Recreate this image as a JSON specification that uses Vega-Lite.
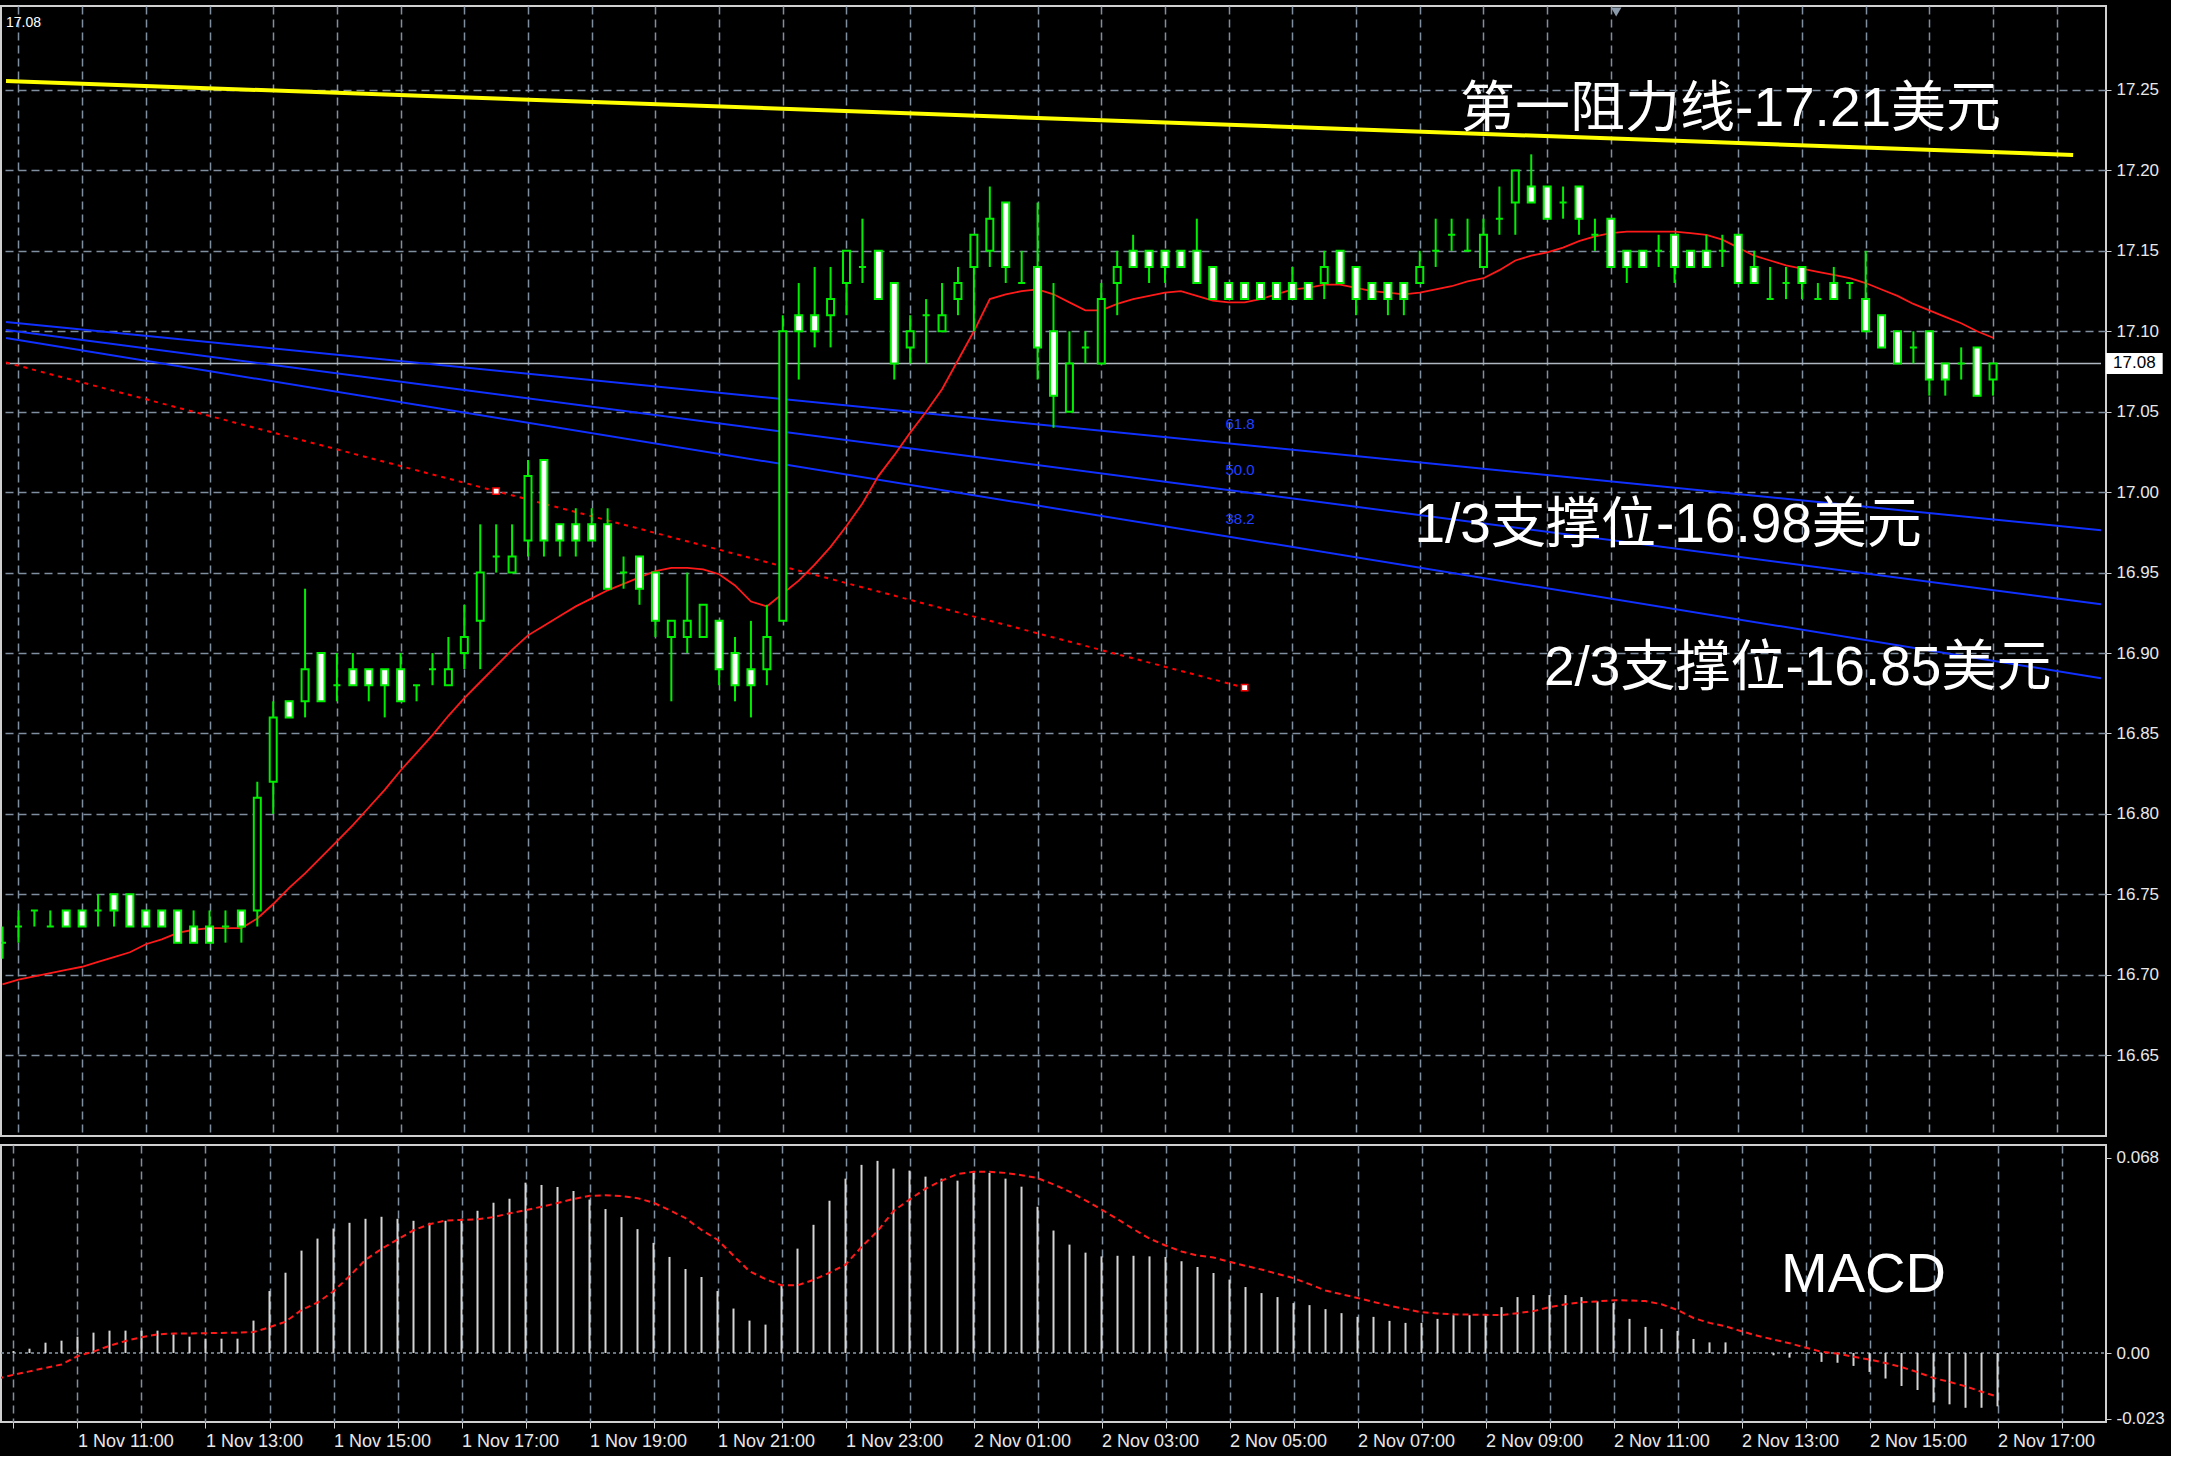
{
  "$schema": "https://vega.github.io/schema/vega-lite/v6.json",
  "background": "#000000",
  "padding": {"left": 0, "top": 5, "right": 5, "bottom": 5},
  "spacing": 7,
  "config": {
    "view": {"stroke": "#d0d0d0", "strokeWidth": 2, "fill": "#000000"},
    "axis": {"gridColor": "#7f8fa0", "gridDash": [8, 5], "gridWidth": 1.5, "labelColor": "#e8e8e8", "labelFont": "Liberation Sans", "tickColor": "#d0d0d0", "domain": false}
  },
  "datasets": {
    "bars": [
      {"t":"2017-11-01T09:45","o":16.72,"h":16.73,"l":16.71,"c":16.72,"ma":16.694,"hist":0.0003,"sig":-0.0089},
      {"t":"2017-11-01T10:00","o":16.73,"h":16.74,"l":16.72,"c":16.73,"ma":16.697,"hist":0.0007,"sig":-0.0076},
      {"t":"2017-11-01T10:15","o":16.74,"h":16.74,"l":16.73,"c":16.74,"ma":16.699,"hist":0.0015,"sig":-0.0064},
      {"t":"2017-11-01T10:30","o":16.73,"h":16.74,"l":16.73,"c":16.73,"ma":16.701,"hist":0.0036,"sig":-0.0052},
      {"t":"2017-11-01T10:45","o":16.74,"h":16.74,"l":16.73,"c":16.73,"ma":16.703,"hist":0.0043,"sig":-0.0040},
      {"t":"2017-11-01T11:00","o":16.74,"h":16.74,"l":16.73,"c":16.73,"ma":16.705,"hist":0.0057,"sig":-0.0011},
      {"t":"2017-11-01T11:15","o":16.74,"h":16.75,"l":16.73,"c":16.74,"ma":16.708,"hist":0.0071,"sig":0.0005},
      {"t":"2017-11-01T11:30","o":16.75,"h":16.75,"l":16.73,"c":16.74,"ma":16.711,"hist":0.0078,"sig":0.0025},
      {"t":"2017-11-01T11:45","o":16.75,"h":16.75,"l":16.73,"c":16.73,"ma":16.714,"hist":0.0078,"sig":0.0042},
      {"t":"2017-11-01T12:00","o":16.74,"h":16.74,"l":16.73,"c":16.73,"ma":16.719,"hist":0.0078,"sig":0.0055},
      {"t":"2017-11-01T12:15","o":16.74,"h":16.74,"l":16.73,"c":16.73,"ma":16.722,"hist":0.0078,"sig":0.0065},
      {"t":"2017-11-01T12:30","o":16.74,"h":16.74,"l":16.72,"c":16.72,"ma":16.726,"hist":0.0065,"sig":0.0068},
      {"t":"2017-11-01T12:45","o":16.73,"h":16.74,"l":16.72,"c":16.72,"ma":16.728,"hist":0.0057,"sig":0.0068},
      {"t":"2017-11-01T13:00","o":16.73,"h":16.74,"l":16.72,"c":16.72,"ma":16.729,"hist":0.0050,"sig":0.0069},
      {"t":"2017-11-01T13:15","o":16.73,"h":16.74,"l":16.72,"c":16.73,"ma":16.729,"hist":0.0050,"sig":0.0070},
      {"t":"2017-11-01T13:30","o":16.74,"h":16.74,"l":16.72,"c":16.73,"ma":16.729,"hist":0.0050,"sig":0.0071},
      {"t":"2017-11-01T13:45","o":16.74,"h":16.82,"l":16.73,"c":16.81,"ma":16.735,"hist":0.0113,"sig":0.0073},
      {"t":"2017-11-01T14:00","o":16.82,"h":16.87,"l":16.80,"c":16.86,"ma":16.744,"hist":0.0216,"sig":0.0090},
      {"t":"2017-11-01T14:15","o":16.87,"h":16.87,"l":16.86,"c":16.86,"ma":16.754,"hist":0.0280,"sig":0.0109},
      {"t":"2017-11-01T14:30","o":16.87,"h":16.94,"l":16.86,"c":16.89,"ma":16.763,"hist":0.0357,"sig":0.0150},
      {"t":"2017-11-01T14:45","o":16.90,"h":16.90,"l":16.87,"c":16.87,"ma":16.773,"hist":0.0399,"sig":0.0176},
      {"t":"2017-11-01T15:00","o":16.88,"h":16.90,"l":16.87,"c":16.88,"ma":16.783,"hist":0.0434,"sig":0.0215},
      {"t":"2017-11-01T15:15","o":16.89,"h":16.90,"l":16.88,"c":16.88,"ma":16.793,"hist":0.0454,"sig":0.0268},
      {"t":"2017-11-01T15:30","o":16.89,"h":16.89,"l":16.87,"c":16.88,"ma":16.804,"hist":0.0468,"sig":0.0325},
      {"t":"2017-11-01T15:45","o":16.89,"h":16.89,"l":16.86,"c":16.88,"ma":16.815,"hist":0.0475,"sig":0.0363},
      {"t":"2017-11-01T16:00","o":16.89,"h":16.90,"l":16.87,"c":16.87,"ma":16.827,"hist":0.0468,"sig":0.0396},
      {"t":"2017-11-01T16:15","o":16.88,"h":16.88,"l":16.87,"c":16.88,"ma":16.838,"hist":0.0461,"sig":0.0428},
      {"t":"2017-11-01T16:30","o":16.89,"h":16.90,"l":16.88,"c":16.89,"ma":16.849,"hist":0.0454,"sig":0.0449},
      {"t":"2017-11-01T16:45","o":16.88,"h":16.91,"l":16.88,"c":16.89,"ma":16.861,"hist":0.0461,"sig":0.0462},
      {"t":"2017-11-01T17:00","o":16.90,"h":16.93,"l":16.89,"c":16.91,"ma":16.872,"hist":0.0468,"sig":0.0464},
      {"t":"2017-11-01T17:15","o":16.92,"h":16.98,"l":16.89,"c":16.95,"ma":16.882,"hist":0.0496,"sig":0.0466},
      {"t":"2017-11-01T17:30","o":16.96,"h":16.98,"l":16.95,"c":16.96,"ma":16.892,"hist":0.0524,"sig":0.0474},
      {"t":"2017-11-01T17:45","o":16.95,"h":16.98,"l":16.95,"c":16.96,"ma":16.902,"hist":0.0538,"sig":0.0487},
      {"t":"2017-11-01T18:00","o":16.97,"h":17.02,"l":16.96,"c":17.01,"ma":16.911,"hist":0.0594,"sig":0.0498},
      {"t":"2017-11-01T18:15","o":17.02,"h":17.02,"l":16.96,"c":16.97,"ma":16.917,"hist":0.0586,"sig":0.0510},
      {"t":"2017-11-01T18:30","o":16.98,"h":16.98,"l":16.96,"c":16.97,"ma":16.923,"hist":0.0579,"sig":0.0523},
      {"t":"2017-11-01T18:45","o":16.98,"h":16.99,"l":16.96,"c":16.97,"ma":16.929,"hist":0.0565,"sig":0.0537},
      {"t":"2017-11-01T19:00","o":16.98,"h":16.99,"l":16.97,"c":16.97,"ma":16.934,"hist":0.0535,"sig":0.0548},
      {"t":"2017-11-01T19:15","o":16.98,"h":16.99,"l":16.94,"c":16.94,"ma":16.939,"hist":0.0502,"sig":0.0550},
      {"t":"2017-11-01T19:30","o":16.95,"h":16.96,"l":16.94,"c":16.95,"ma":16.943,"hist":0.0474,"sig":0.0547},
      {"t":"2017-11-01T19:45","o":16.96,"h":16.96,"l":16.93,"c":16.94,"ma":16.947,"hist":0.0432,"sig":0.0540},
      {"t":"2017-11-01T20:00","o":16.95,"h":16.95,"l":16.91,"c":16.92,"ma":16.951,"hist":0.0384,"sig":0.0524},
      {"t":"2017-11-01T20:15","o":16.91,"h":16.92,"l":16.87,"c":16.92,"ma":16.953,"hist":0.0335,"sig":0.0498},
      {"t":"2017-11-01T20:30","o":16.91,"h":16.95,"l":16.90,"c":16.92,"ma":16.953,"hist":0.0293,"sig":0.0470},
      {"t":"2017-11-01T20:45","o":16.91,"h":16.93,"l":16.91,"c":16.93,"ma":16.952,"hist":0.0265,"sig":0.0429},
      {"t":"2017-11-01T21:00","o":16.92,"h":16.92,"l":16.88,"c":16.89,"ma":16.949,"hist":0.0216,"sig":0.0395},
      {"t":"2017-11-01T21:15","o":16.90,"h":16.91,"l":16.87,"c":16.88,"ma":16.942,"hist":0.0155,"sig":0.0339},
      {"t":"2017-11-01T21:30","o":16.89,"h":16.92,"l":16.86,"c":16.88,"ma":16.932,"hist":0.0113,"sig":0.0285},
      {"t":"2017-11-01T21:45","o":16.89,"h":16.93,"l":16.88,"c":16.91,"ma":16.929,"hist":0.0099,"sig":0.0258},
      {"t":"2017-11-01T22:00","o":16.92,"h":17.11,"l":16.92,"c":17.10,"ma":16.937,"hist":0.0234,"sig":0.0236},
      {"t":"2017-11-01T22:15","o":17.11,"h":17.13,"l":17.07,"c":17.10,"ma":16.945,"hist":0.0364,"sig":0.0236},
      {"t":"2017-11-01T22:30","o":17.11,"h":17.14,"l":17.09,"c":17.10,"ma":16.955,"hist":0.0447,"sig":0.0255},
      {"t":"2017-11-01T22:45","o":17.11,"h":17.14,"l":17.09,"c":17.12,"ma":16.966,"hist":0.0531,"sig":0.0280},
      {"t":"2017-11-01T23:00","o":17.13,"h":17.15,"l":17.11,"c":17.15,"ma":16.979,"hist":0.0608,"sig":0.0308},
      {"t":"2017-11-01T23:15","o":17.14,"h":17.17,"l":17.13,"c":17.14,"ma":16.993,"hist":0.0656,"sig":0.0370},
      {"t":"2017-11-01T23:30","o":17.15,"h":17.15,"l":17.12,"c":17.12,"ma":17.010,"hist":0.0670,"sig":0.0425},
      {"t":"2017-11-01T23:45","o":17.13,"h":17.13,"l":17.07,"c":17.08,"ma":17.023,"hist":0.0643,"sig":0.0495},
      {"t":"2017-11-02T00:00","o":17.09,"h":17.11,"l":17.08,"c":17.10,"ma":17.037,"hist":0.0636,"sig":0.0535},
      {"t":"2017-11-02T00:15","o":17.11,"h":17.12,"l":17.08,"c":17.11,"ma":17.050,"hist":0.0615,"sig":0.0573},
      {"t":"2017-11-02T00:30","o":17.10,"h":17.13,"l":17.10,"c":17.11,"ma":17.064,"hist":0.0608,"sig":0.0601},
      {"t":"2017-11-02T00:45","o":17.12,"h":17.14,"l":17.11,"c":17.13,"ma":17.082,"hist":0.0601,"sig":0.0624},
      {"t":"2017-11-02T01:00","o":17.14,"h":17.16,"l":17.10,"c":17.16,"ma":17.100,"hist":0.0628,"sig":0.0632},
      {"t":"2017-11-02T01:15","o":17.15,"h":17.19,"l":17.14,"c":17.17,"ma":17.120,"hist":0.0628,"sig":0.0632},
      {"t":"2017-11-02T01:30","o":17.18,"h":17.18,"l":17.13,"c":17.14,"ma":17.123,"hist":0.0608,"sig":0.0628},
      {"t":"2017-11-02T01:45","o":17.13,"h":17.15,"l":17.13,"c":17.13,"ma":17.125,"hist":0.0580,"sig":0.0620},
      {"t":"2017-11-02T02:00","o":17.14,"h":17.18,"l":17.07,"c":17.09,"ma":17.126,"hist":0.0510,"sig":0.0610},
      {"t":"2017-11-02T02:15","o":17.10,"h":17.13,"l":17.04,"c":17.06,"ma":17.123,"hist":0.0427,"sig":0.0588},
      {"t":"2017-11-02T02:30","o":17.05,"h":17.10,"l":17.05,"c":17.08,"ma":17.118,"hist":0.0378,"sig":0.0563},
      {"t":"2017-11-02T02:45","o":17.09,"h":17.10,"l":17.08,"c":17.09,"ma":17.113,"hist":0.0350,"sig":0.0532},
      {"t":"2017-11-02T03:00","o":17.08,"h":17.13,"l":17.08,"c":17.12,"ma":17.113,"hist":0.0337,"sig":0.0500},
      {"t":"2017-11-02T03:15","o":17.13,"h":17.15,"l":17.11,"c":17.14,"ma":17.117,"hist":0.0339,"sig":0.0467},
      {"t":"2017-11-02T03:30","o":17.15,"h":17.16,"l":17.14,"c":17.14,"ma":17.120,"hist":0.0339,"sig":0.0432},
      {"t":"2017-11-02T03:45","o":17.15,"h":17.15,"l":17.13,"c":17.14,"ma":17.122,"hist":0.0337,"sig":0.0399},
      {"t":"2017-11-02T04:00","o":17.15,"h":17.15,"l":17.13,"c":17.14,"ma":17.124,"hist":0.0335,"sig":0.0375},
      {"t":"2017-11-02T04:15","o":17.15,"h":17.15,"l":17.14,"c":17.14,"ma":17.125,"hist":0.0320,"sig":0.0354},
      {"t":"2017-11-02T04:30","o":17.15,"h":17.17,"l":17.13,"c":17.13,"ma":17.122,"hist":0.0300,"sig":0.0340},
      {"t":"2017-11-02T04:45","o":17.14,"h":17.14,"l":17.12,"c":17.12,"ma":17.119,"hist":0.0279,"sig":0.0333},
      {"t":"2017-11-02T05:00","o":17.13,"h":17.13,"l":17.12,"c":17.12,"ma":17.118,"hist":0.0256,"sig":0.0318},
      {"t":"2017-11-02T05:15","o":17.13,"h":17.13,"l":17.12,"c":17.12,"ma":17.118,"hist":0.0230,"sig":0.0304},
      {"t":"2017-11-02T05:30","o":17.13,"h":17.13,"l":17.12,"c":17.12,"ma":17.120,"hist":0.0209,"sig":0.0291},
      {"t":"2017-11-02T05:45","o":17.13,"h":17.13,"l":17.12,"c":17.12,"ma":17.123,"hist":0.0195,"sig":0.0276},
      {"t":"2017-11-02T06:00","o":17.13,"h":17.14,"l":17.12,"c":17.12,"ma":17.126,"hist":0.0174,"sig":0.0261},
      {"t":"2017-11-02T06:15","o":17.13,"h":17.13,"l":17.12,"c":17.12,"ma":17.127,"hist":0.0167,"sig":0.0240},
      {"t":"2017-11-02T06:30","o":17.13,"h":17.15,"l":17.12,"c":17.14,"ma":17.129,"hist":0.0153,"sig":0.0218},
      {"t":"2017-11-02T06:45","o":17.15,"h":17.15,"l":17.13,"c":17.13,"ma":17.129,"hist":0.0139,"sig":0.0205},
      {"t":"2017-11-02T07:00","o":17.14,"h":17.14,"l":17.11,"c":17.12,"ma":17.127,"hist":0.0126,"sig":0.0192},
      {"t":"2017-11-02T07:15","o":17.13,"h":17.13,"l":17.12,"c":17.12,"ma":17.125,"hist":0.0126,"sig":0.0178},
      {"t":"2017-11-02T07:30","o":17.13,"h":17.13,"l":17.11,"c":17.12,"ma":17.124,"hist":0.0112,"sig":0.0165},
      {"t":"2017-11-02T07:45","o":17.13,"h":17.13,"l":17.11,"c":17.12,"ma":17.123,"hist":0.0105,"sig":0.0153},
      {"t":"2017-11-02T08:00","o":17.13,"h":17.15,"l":17.13,"c":17.14,"ma":17.124,"hist":0.0105,"sig":0.0142},
      {"t":"2017-11-02T08:15","o":17.15,"h":17.17,"l":17.14,"c":17.15,"ma":17.126,"hist":0.0119,"sig":0.0138},
      {"t":"2017-11-02T08:30","o":17.16,"h":17.17,"l":17.15,"c":17.16,"ma":17.128,"hist":0.0132,"sig":0.0135},
      {"t":"2017-11-02T08:45","o":17.15,"h":17.17,"l":17.15,"c":17.15,"ma":17.131,"hist":0.0132,"sig":0.0134},
      {"t":"2017-11-02T09:00","o":17.14,"h":17.17,"l":17.14,"c":17.16,"ma":17.133,"hist":0.0132,"sig":0.0133},
      {"t":"2017-11-02T09:15","o":17.17,"h":17.19,"l":17.16,"c":17.17,"ma":17.138,"hist":0.0160,"sig":0.0132},
      {"t":"2017-11-02T09:30","o":17.18,"h":17.20,"l":17.16,"c":17.20,"ma":17.144,"hist":0.0195,"sig":0.0139},
      {"t":"2017-11-02T09:45","o":17.19,"h":17.21,"l":17.18,"c":17.18,"ma":17.147,"hist":0.0202,"sig":0.0146},
      {"t":"2017-11-02T10:00","o":17.19,"h":17.19,"l":17.17,"c":17.17,"ma":17.149,"hist":0.0202,"sig":0.0160},
      {"t":"2017-11-02T10:15","o":17.18,"h":17.19,"l":17.17,"c":17.18,"ma":17.152,"hist":0.0202,"sig":0.0170},
      {"t":"2017-11-02T10:30","o":17.19,"h":17.19,"l":17.16,"c":17.17,"ma":17.156,"hist":0.0195,"sig":0.0177},
      {"t":"2017-11-02T10:45","o":17.16,"h":17.17,"l":17.15,"c":17.16,"ma":17.159,"hist":0.0180,"sig":0.0180},
      {"t":"2017-11-02T11:00","o":17.17,"h":17.17,"l":17.14,"c":17.14,"ma":17.161,"hist":0.0174,"sig":0.0184},
      {"t":"2017-11-02T11:15","o":17.15,"h":17.15,"l":17.13,"c":17.14,"ma":17.162,"hist":0.0119,"sig":0.0183},
      {"t":"2017-11-02T11:30","o":17.15,"h":17.15,"l":17.14,"c":17.14,"ma":17.162,"hist":0.0091,"sig":0.0181},
      {"t":"2017-11-02T11:45","o":17.15,"h":17.16,"l":17.14,"c":17.15,"ma":17.162,"hist":0.0084,"sig":0.0170},
      {"t":"2017-11-02T12:00","o":17.16,"h":17.16,"l":17.13,"c":17.14,"ma":17.162,"hist":0.0077,"sig":0.0150},
      {"t":"2017-11-02T12:15","o":17.15,"h":17.15,"l":17.14,"c":17.14,"ma":17.161,"hist":0.0049,"sig":0.0122},
      {"t":"2017-11-02T12:30","o":17.15,"h":17.16,"l":17.14,"c":17.14,"ma":17.160,"hist":0.0037,"sig":0.0105},
      {"t":"2017-11-02T12:45","o":17.15,"h":17.16,"l":17.14,"c":17.15,"ma":17.157,"hist":0.0037,"sig":0.0093},
      {"t":"2017-11-02T13:00","o":17.16,"h":17.16,"l":17.13,"c":17.13,"ma":17.152,"hist":0.0002,"sig":0.0076},
      {"t":"2017-11-02T13:15","o":17.14,"h":17.15,"l":17.13,"c":17.13,"ma":17.147,"hist":0.0001,"sig":0.0060},
      {"t":"2017-11-02T13:30","o":17.12,"h":17.14,"l":17.12,"c":17.12,"ma":17.144,"hist":-0.0008,"sig":0.0047},
      {"t":"2017-11-02T13:45","o":17.13,"h":17.14,"l":17.12,"c":17.13,"ma":17.141,"hist":-0.0016,"sig":0.0034},
      {"t":"2017-11-02T14:00","o":17.14,"h":17.14,"l":17.12,"c":17.13,"ma":17.139,"hist":-0.0002,"sig":0.0019},
      {"t":"2017-11-02T14:15","o":17.12,"h":17.13,"l":17.12,"c":17.12,"ma":17.137,"hist":-0.0031,"sig":0.0004},
      {"t":"2017-11-02T14:30","o":17.13,"h":17.14,"l":17.12,"c":17.12,"ma":17.135,"hist":-0.0034,"sig":-0.0002},
      {"t":"2017-11-02T14:45","o":17.13,"h":17.13,"l":17.12,"c":17.13,"ma":17.133,"hist":-0.0045,"sig":-0.0013},
      {"t":"2017-11-02T15:00","o":17.12,"h":17.15,"l":17.10,"c":17.10,"ma":17.130,"hist":-0.0066,"sig":-0.0023},
      {"t":"2017-11-02T15:15","o":17.11,"h":17.11,"l":17.09,"c":17.09,"ma":17.126,"hist":-0.0089,"sig":-0.0035},
      {"t":"2017-11-02T15:30","o":17.10,"h":17.10,"l":17.08,"c":17.08,"ma":17.122,"hist":-0.0115,"sig":-0.0049},
      {"t":"2017-11-02T15:45","o":17.09,"h":17.10,"l":17.08,"c":17.09,"ma":17.117,"hist":-0.0129,"sig":-0.0067},
      {"t":"2017-11-02T16:00","o":17.10,"h":17.10,"l":17.06,"c":17.07,"ma":17.113,"hist":-0.0172,"sig":-0.0087},
      {"t":"2017-11-02T16:15","o":17.08,"h":17.08,"l":17.06,"c":17.07,"ma":17.109,"hist":-0.0179,"sig":-0.0101},
      {"t":"2017-11-02T16:30","o":17.08,"h":17.09,"l":17.07,"c":17.08,"ma":17.105,"hist":-0.0191,"sig":-0.0116},
      {"t":"2017-11-02T16:45","o":17.09,"h":17.09,"l":17.06,"c":17.06,"ma":17.100,"hist":-0.0191,"sig":-0.0135},
      {"t":"2017-11-02T17:00","o":17.07,"h":17.08,"l":17.06,"c":17.08,"ma":17.096,"hist":-0.0186,"sig":-0.0152}
    ]
  },
  "vconcat": [
    {
      "width": 2105,
      "height": 1130,
      "layer": [
        {"data": {"values": [{"t": "2017-11-01T09:48:17", "p": 17.08}, {"t": "2017-11-02T18:41:42", "p": 17.08}]},
         "mark": {"type": "line", "color": "#aeb6bf", "strokeWidth": 1.5, "clip": true},
         "encoding": {
           "x": {"field": "t", "type": "temporal", "title": null,
             "scale": {"domain": ["2017-11-01T09:48:17", "2017-11-02T18:41:42"], "nice": false},
             "axis": {"title": null, "grid": true, "labels": false, "ticks": false, "domain": false, "tickCount": 33}},
           "y": {"field": "p", "type": "quantitative", "title": null,
             "scale": {"domain": [16.5998, 17.3022], "nice": false, "zero": false},
             "axis": {"title": null, "orient": "right", "values": [16.65, 16.7, 16.75, 16.8, 16.85, 16.9, 16.95, 17.0, 17.05, 17.1, 17.15, 17.2, 17.25], "format": ".2f", "grid": true, "tickSize": 5, "labelPadding": 5, "labelFontSize": 17}}
         }},
        {"data": {"values": [{"t": "2017-11-01T09:48:17", "p": 17.2556}, {"t": "2017-11-02T18:15:28", "p": 17.2096}]},
         "mark": {"type": "line", "color": "#ffff00", "strokeWidth": 4, "clip": true},
         "encoding": {"x": {"field": "t", "type": "temporal", "title": null}, "y": {"field": "p", "type": "quantitative", "title": null}}},
        {"data": {"values": [
            {"k": "A", "t": "2017-11-01T09:48:17", "p": 17.1058}, {"k": "A", "t": "2017-11-02T18:41:42", "p": 16.9764},
            {"k": "B", "t": "2017-11-01T09:48:17", "p": 17.1008}, {"k": "B", "t": "2017-11-02T18:41:42", "p": 16.9303},
            {"k": "C", "t": "2017-11-01T09:48:17", "p": 17.0958}, {"k": "C", "t": "2017-11-02T18:41:42", "p": 16.8843}]},
         "mark": {"type": "line", "color": "#1030ff", "strokeWidth": 2, "clip": true},
         "encoding": {"x": {"field": "t", "type": "temporal", "title": null}, "y": {"field": "p", "type": "quantitative", "title": null}, "detail": {"field": "k"}}},
        {"data": {"values": [{"t": "2017-11-01T09:48:17", "p": 17.0806}, {"t": "2017-11-02T05:15", "p": 16.8785}]},
         "mark": {"type": "line", "color": "#ff0000", "strokeWidth": 2, "strokeDash": [4, 5], "clip": true},
         "encoding": {"x": {"field": "t", "type": "temporal", "title": null}, "y": {"field": "p", "type": "quantitative", "title": null}}},
        {"data": {"values": [{"t": "2017-11-01T17:30", "p": 17.0006}, {"t": "2017-11-02T05:15", "p": 16.8785}]},
         "mark": {"type": "point", "shape": "square", "size": 40, "filled": true, "fill": "#ffffff", "stroke": "#ff0000", "strokeWidth": 1.5, "opacity": 1},
         "encoding": {"x": {"field": "t", "type": "temporal", "title": null}, "y": {"field": "p", "type": "quantitative", "title": null}}},
        {"data": {"name": "bars"},
         "mark": {"type": "line", "color": "#ff1a1a", "strokeWidth": 1.8, "clip": true},
         "encoding": {"x": {"field": "t", "type": "temporal", "title": null}, "y": {"field": "ma", "type": "quantitative", "title": null}}},
        {"data": {"name": "bars"},
         "mark": {"type": "rule", "color": "#00ee00", "strokeWidth": 2, "clip": true},
         "encoding": {"x": {"field": "t", "type": "temporal", "title": null}, "y": {"field": "l", "type": "quantitative", "title": null}, "y2": {"field": "h"}}},
        {"data": {"name": "bars"},
         "mark": {"type": "bar", "size": 7, "stroke": "#00ee00", "strokeWidth": 2, "clip": true},
         "encoding": {"x": {"field": "t", "type": "temporal", "title": null}, "y": {"field": "o", "type": "quantitative", "title": null}, "y2": {"field": "c"},
           "fill": {"condition": {"test": "datum.c > datum.o", "value": "#000000"}, "value": "#ffffff"}}},
        {"data": {"values": [
            {"t": "2017-11-02T08:38", "p": 17.2382, "label": "第一阻力线-17.21美元"},
            {"t": "2017-11-02T07:55", "p": 16.9796, "label": "1/3支撑位-16.98美元"},
            {"t": "2017-11-02T09:57", "p": 16.8907, "label": "2/3支撑位-16.85美元"}]},
         "mark": {"type": "text", "align": "left", "baseline": "middle", "color": "#ffffff", "fontSize": 55, "font": "Liberation Sans, Noto Sans CJK SC"},
         "encoding": {"x": {"field": "t", "type": "temporal", "title": null}, "y": {"field": "p", "type": "quantitative", "title": null}, "text": {"field": "label"}}},
        {"data": {"values": [
            {"t": "2017-11-02T04:57", "p": 17.0424, "label": "61.8"},
            {"t": "2017-11-02T04:57", "p": 17.0138, "label": "50.0"},
            {"t": "2017-11-02T04:57", "p": 16.9833, "label": "38.2"}]},
         "mark": {"type": "text", "align": "left", "baseline": "middle", "color": "#2040ff", "fontSize": 15, "font": "Liberation Sans"},
         "encoding": {"x": {"field": "t", "type": "temporal", "title": null}, "y": {"field": "p", "type": "quantitative", "title": null}, "text": {"field": "label"}}},
        {"data": {"values": [{"t": "2017-11-01T09:48:17", "p": 17.2915, "label": "17.08"}]},
         "mark": {"type": "text", "align": "left", "baseline": "middle", "color": "#ffffff", "fontSize": 14, "font": "Liberation Sans"},
         "encoding": {"x": {"field": "t", "type": "temporal", "title": null}, "y": {"field": "p", "type": "quantitative", "title": null}, "text": {"field": "label"}}},
        {"data": {"values": [{"t": "2017-11-02T11:05", "p": 17.2985}]},
         "mark": {"type": "point", "shape": "triangle-down", "size": 110, "filled": true, "color": "#8a9aaa", "opacity": 1},
         "encoding": {"x": {"field": "t", "type": "temporal", "title": null}, "y": {"field": "p", "type": "quantitative", "title": null}}},
        {"data": {"values": [{"t": "2017-11-02T18:46:23", "t2": "2017-11-02T19:39:48", "p": 17.0865, "p2": 17.0735}]},
         "mark": {"type": "rect", "color": "#ffffff", "clip": false},
         "encoding": {"x": {"field": "t", "type": "temporal", "title": null}, "x2": {"field": "t2"}, "y": {"field": "p", "type": "quantitative", "title": null}, "y2": {"field": "p2"}}},
        {"data": {"values": [{"t": "2017-11-02T19:13:06", "p": 17.08, "label": "17.08"}]},
         "mark": {"type": "text", "align": "center", "baseline": "middle", "color": "#000000", "fontSize": 17, "font": "Liberation Sans", "clip": false},
         "encoding": {"x": {"field": "t", "type": "temporal", "title": null}, "y": {"field": "p", "type": "quantitative", "title": null}, "text": {"field": "label"}}}
      ]
    },
    {
      "width": 2105,
      "height": 277,
      "layer": [
        {"data": {"values": [{"t": "2017-11-01T09:48:17", "v": 0}, {"t": "2017-11-02T18:41:42", "v": 0}]},
         "mark": {"type": "line", "color": "#8a9aaa", "strokeWidth": 1.5, "strokeDash": [3, 3], "clip": true},
         "encoding": {
           "x": {"field": "t", "type": "temporal", "title": null,
             "scale": {"domain": ["2017-11-01T09:48:17", "2017-11-02T18:41:42"], "nice": false},
             "axis": {"title": null, "orient": "bottom", "grid": true, "domain": false, "tickCount": 33,
               "labelExpr": "hours(datum.value) % 2 == 1 ? timeFormat(datum.value, '%-d %b %H:%M') : ''",
               "labelAlign": "left", "labelBaseline": "top", "labelPadding": 4, "tickSize": 6, "labelOverlap": false, "labelFlush": false, "labelBound": false, "labelFontSize": 18}},
           "y": {"field": "v", "type": "quantitative", "title": null,
             "scale": {"domain": [-0.02406, 0.07253], "nice": false, "zero": false},
             "axis": {"title": null, "orient": "right", "values": [-0.023, 0, 0.068], "grid": false, "tickSize": 5, "labelPadding": 5, "labelFontSize": 17,
               "labelExpr": "datum.value == 0 ? '0.00' : (datum.value < 0 ? '-' + format(-datum.value, '.3f') : format(datum.value, '.3f'))"}}
         }},
        {"data": {"name": "bars"},
         "mark": {"type": "rule", "color": "#d4d4d4", "strokeWidth": 2, "clip": true},
         "encoding": {"x": {"field": "t", "type": "temporal", "title": null}, "y": {"field": "hist", "type": "quantitative", "title": null}, "y2": {"datum": 0}}},
        {"data": {"name": "bars"},
         "mark": {"type": "line", "color": "#ff1a1a", "strokeWidth": 2, "strokeDash": [6, 4], "clip": true},
         "encoding": {"x": {"field": "t", "type": "temporal", "title": null}, "y": {"field": "sig", "type": "quantitative", "title": null}}},
        {"data": {"values": [{"t": "2017-11-02T13:37", "v": 0.0272, "label": "MACD"}]},
         "mark": {"type": "text", "align": "left", "baseline": "middle", "color": "#ffffff", "fontSize": 56, "font": "Liberation Sans"},
         "encoding": {"x": {"field": "t", "type": "temporal", "title": null}, "y": {"field": "v", "type": "quantitative", "title": null}, "text": {"field": "label"}}}
      ]
    }
  ]
}
